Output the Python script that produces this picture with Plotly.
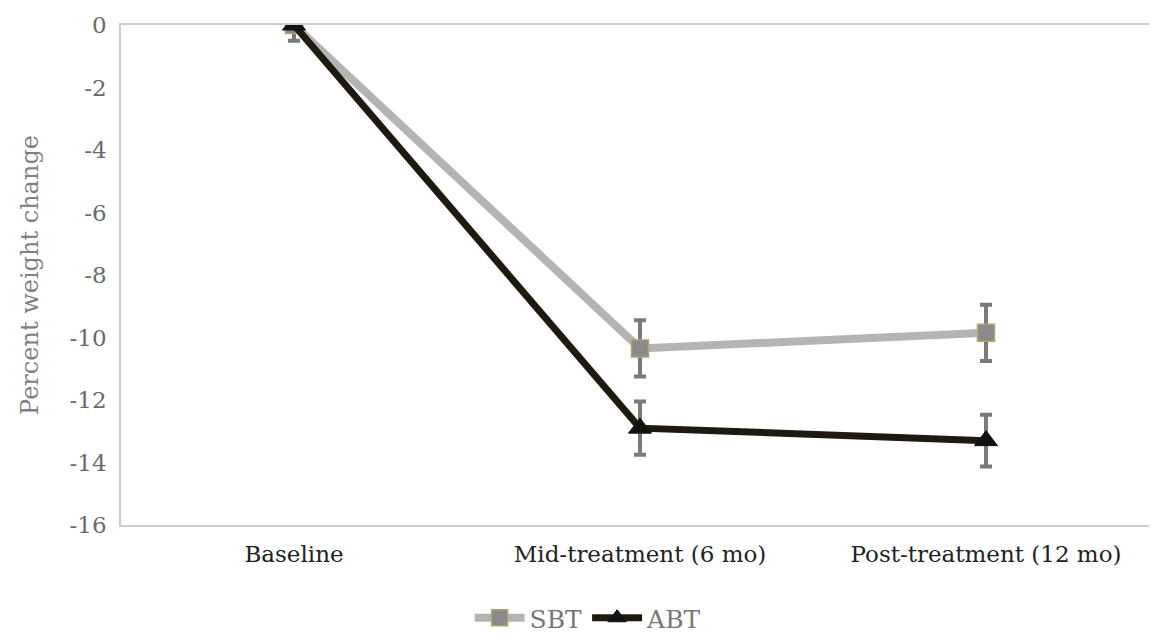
import plotly.graph_objects as go

categories = ["Baseline", "Mid-treatment (6 mo)", "Post-treatment (12 mo)"]
sbt_values = [0, -10.35, -9.85]
sbt_err = [0.5, 0.9, 0.9]
abt_values = [0, -12.9, -13.3]
abt_err = [0.0, 0.85, 0.83]
y_ticks = [0, -2, -4, -6, -8, -10, -12, -14, -16]
y_tick_labels = ["0", "-2", "-4", "-6", "-8", "-10", "-12", "-14", "-16"]

fig = go.Figure()
fig.add_trace(go.Scatter(
    x=categories, y=sbt_values, name="SBT", mode="lines+markers",
    line=dict(color="#b4b4b4", width=8),
    marker=dict(symbol="square", size=17, color="#8a8a8a",
                line=dict(color="#b0a56a", width=1.5)),
    error_y=dict(type="data", array=sbt_err, color="#7a7a7a", thickness=4, width=6),
))
fig.add_trace(go.Scatter(
    x=categories, y=abt_values, name="ABT", mode="lines+markers",
    line=dict(color="#1e1a10", width=7),
    marker=dict(symbol="triangle-up", size=20, color="#111111",
                line=dict(color="#111111", width=1)),
    error_y=dict(type="data", array=abt_err, color="#7a7a7a", thickness=4, width=6),
))

fig.update_layout(
    width=1157, height=637,
    margin=dict(l=113, r=4, t=13, b=117),
    paper_bgcolor="white", plot_bgcolor="white",
    font=dict(family="DejaVu Serif", color="#666666"),
    showlegend=True,
    legend=dict(orientation="h", x=0.45, xanchor="center", y=-0.14, yanchor="top",
                font=dict(size=25, color="#777777"), itemwidth=50,
                traceorder="normal"),
)
fig.update_xaxes(
    type="category", range=[-0.5, 2.5], showgrid=False,
    showline=True, mirror=True, linecolor="#cccccc", linewidth=1.5,
    ticks="outside", ticklen=8, tickcolor="rgba(0,0,0,0)",
    tickfont=dict(size=23, color="#222222"),
)
fig.update_yaxes(
    range=[-16, 0], tickvals=y_ticks, ticktext=y_tick_labels, showgrid=False,
    zeroline=False, showline=True, mirror=True, linecolor="#cccccc", linewidth=1.5,
    ticks="outside", ticklen=8, tickcolor="rgba(0,0,0,0)",
    tickfont=dict(size=23, color="#6a6a6a"),
    title=dict(text="Percent weight change", font=dict(size=24, color="#808080"), standoff=24),
)

fig.write_html("out.html")
